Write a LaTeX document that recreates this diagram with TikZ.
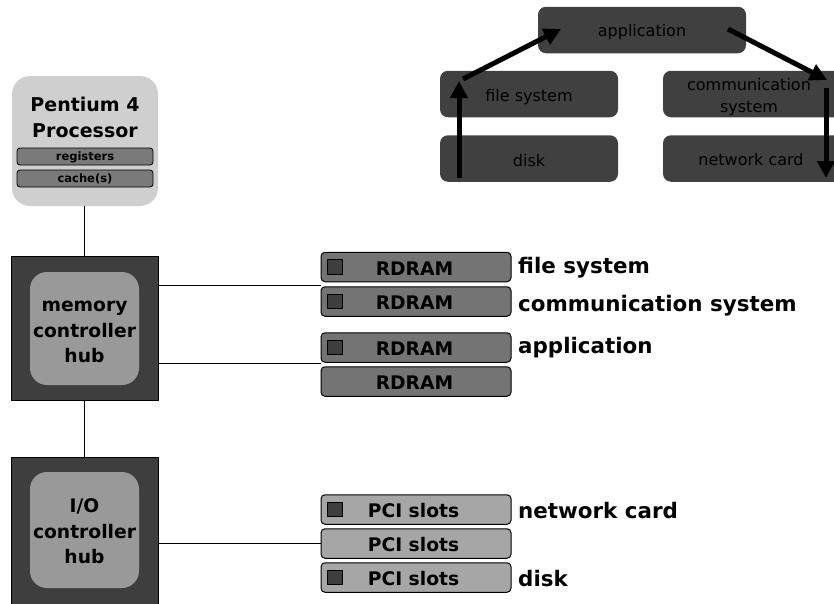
\documentclass[tikz,border=0pt]{standalone}
\usepackage{fontspec}
\setmainfont{DejaVu Sans}
\usetikzlibrary{arrows.meta}

\definecolor{chipdark}{HTML}{3E3E3E}
\definecolor{chipmid}{HTML}{999999}
\definecolor{proclight}{HTML}{CFCFCF}
\definecolor{barmid}{HTML}{7A7A7A}
\definecolor{ramgray}{HTML}{747474}
\definecolor{pcigray}{HTML}{A6A6A6}
\definecolor{layerbox}{HTML}{404040}

\tikzset{
  box/.style={draw=black, inner sep=0pt, outer sep=0pt},
  bigbold/.style={font=\fontsize{18.7}{25.5}\selectfont\bfseries, align=center, inner sep=0pt},
  labelbold/.style={font=\fontsize{21.4}{26}\selectfont\bfseries, anchor=west, inner sep=0pt},
  smallbold/.style={font=\fontsize{11.5}{13}\selectfont\bfseries, inner sep=0pt},
  hubouter/.style={box, fill=chipdark, line width=0.8pt, minimum width=147pt},
  hubinner/.style={draw=none, fill=chipmid, rounded corners=17pt, minimum width=109pt},
  procbar/.style={box, fill=barmid, line width=0.8pt, rounded corners=3pt,
                  minimum width=136pt, minimum height=17pt},
  slot/.style={box, line width=1pt, rounded corners=4pt, minimum width=190pt, minimum height=29.5pt},
  ramslot/.style={slot, fill=ramgray},
  pcislot/.style={slot, fill=pcigray},
  led/.style={box, fill=chipdark, line width=0.8pt, minimum size=14.5pt},
  slottext/.style={font=\fontsize{18.7}{22}\selectfont\bfseries, inner sep=0pt},
  layer/.style={draw=none, fill=layerbox, rounded corners=8pt, inner sep=0pt,
                minimum height=46.5pt},
  layertext/.style={font=\fontsize{16}{22}\selectfont, align=center, inner sep=0pt},
  wire/.style={line width=0.8pt, draw=black},
  flow/.style={line width=5pt, -{Triangle[length=17pt,width=17pt]}},
}

\begin{document}
\begin{tikzpicture}[x=1pt, y=-1pt]
\useasboundingbox (0,0) rectangle (834,603);

% processor package
\node[draw=none, fill=proclight, rounded corners=18pt, minimum width=146pt, minimum height=130pt,
      inner sep=0pt] (proc) at (85,141) {};
\node[bigbold, font=\fontsize{19}{26}\selectfont\bfseries] (proctitle) at (85,117) {Pentium 4\\Processor};
\node[procbar] (regs) at (85,156.5) {};
\node[smallbold] (regstext) at (85,157.5) {registers};
\node[procbar] (cache) at (85,178.5) {};
\node[smallbold] (cachetext) at (85,179) {cache(s)};

% memory controller hub
\node[hubouter, minimum height=144pt] (mch) at (84.5,328) {};
\node[hubinner, minimum height=113pt] (mchin) at (84.5,328.5) {};
\node[bigbold] (mchtext) at (84.5,332) {memory\\controller\\hub};

% I/O controller hub
\node[hubouter, minimum height=150pt] (ich) at (84.5,532) {};
\node[hubinner, minimum height=116pt] (ichin) at (84.5,530) {};
\node[bigbold] (ichtext) at (84.5,531.5) {I/O\\controller\\hub};

% system bus links
\draw[wire] (proc.south -| mch.north) -- (mch.north);
\draw[wire] (mch.south) -- (ich.north);

% RDRAM modules
\foreach \name/\yc in {ramA/267, ramB/301.5, ramC/347.5, ramD/381.5}{
  \node[ramslot] (\name) at (416,\yc) {};
  \node[slottext] (\name-t) at (414.5,\yc+1.5) {RDRAM};
}
\foreach \name in {ramA, ramB, ramC}{
  \node[led] (\name-led) at ([xshift=14pt]\name.west) {};
}

% PCI slots
\foreach \name/\yc in {pciA/509.5, pciB/543.5, pciC/577.5}{
  \node[pcislot] (\name) at (416,\yc) {};
  \node[slottext] (\name-t) at (413.5,\yc+1) {PCI slots};
}
\foreach \name in {pciA, pciC}{
  \node[led] (\name-led) at ([xshift=14pt]\name.west) {};
}

% memory and I/O channels
\coordinate (chanA) at (321,285);
\coordinate (chanB) at (321,363);
\draw[wire] (mch.east |- chanA) -- (chanA);
\draw[wire] (mch.east |- chanB) -- (chanB);
\draw[wire] (ich.east |- pciB) -- (pciB.west);

% what lives where
\node[labelbold] (lblfs) at (518,268) {file system};
\node[labelbold] (lblcs) at (518,305.5) {communication system};
\node[labelbold] (lblapp) at (518,348) {application};
\node[labelbold] (lblnc) at (518,510.5) {network card};
\node[labelbold] (lbldisk) at (518,579) {disk};

% software / hardware layers
\node[layer, minimum width=208pt] (app) at (642,30) {};
\node[layertext] (app-t) at (642,32) {application};
\node[layer, minimum width=178pt] (fs) at (529,94) {};
\node[layertext] (fs-t) at (529,97) {file system};
\node[layer, minimum width=178pt] (dk) at (529,158.5) {};
\node[layertext] (dk-t) at (529,160.5) {disk};
\node[layer, minimum width=180pt] (cs) at (753,94) {};
\node[layertext] (cs-t) at (749,97) {communication\\system};
\node[layer, minimum width=180pt] (nc) at (753,158.5) {};
\node[layertext] (nc-t) at (751,160) {network card};

% data path through the layers
\coordinate (p0) at (459,178);
\coordinate (p1) at (459,81);
\coordinate (p2) at (463,79);
\coordinate (p3) at (561,29);
\coordinate (p4) at (728,29);
\coordinate (p5) at (827,80);
\coordinate (p6) at (826,88);
\coordinate (p7) at (826,178);
\draw[flow] (p0) -- (p1);
\draw[flow] (p2) -- (p3);
\draw[flow] (p4) -- (p5);
\draw[flow] (p6) -- (p7);
\end{tikzpicture}
\end{document}
